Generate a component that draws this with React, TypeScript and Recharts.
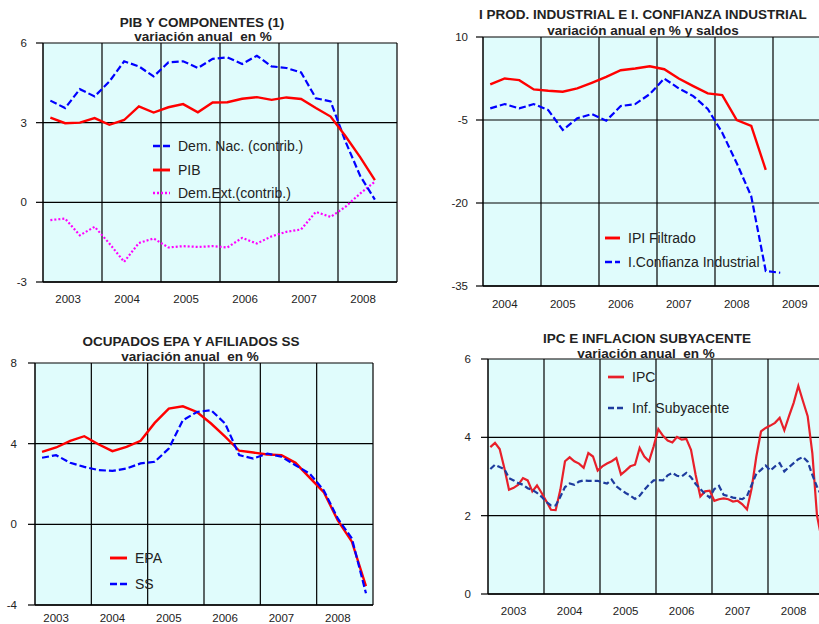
import React from "react";
import { CartesianGrid, Line, LineChart, ReferenceLine, XAxis, YAxis } from "recharts";

const FONT = '"Liberation Sans", Arial, sans-serif';
const PLOT_BG = "#E0FCFC";
const INK = "#222";

// --- PIB y componentes, trimestral 2003T1..2008T3
const pibYears = [2003, 2004, 2005, 2006, 2007, 2008];
const demNac = [3.83, 3.55, 4.26, 3.99, 4.55, 5.31, 5.12, 4.74, 5.27, 5.31, 5.06, 5.4, 5.46, 5.21, 5.52, 5.12, 5.06, 4.89, 3.92, 3.8, 2.3, 1.0, 0.1];
const pib = [3.19, 2.98, 3.0, 3.17, 2.92, 3.1, 3.61, 3.38, 3.58, 3.7, 3.39, 3.76, 3.77, 3.9, 3.96, 3.86, 3.95, 3.89, 3.55, 3.23, 2.5, 1.7, 0.84];
const demExt = [-0.67, -0.61, -1.24, -0.92, -1.55, -2.24, -1.53, -1.36, -1.7, -1.65, -1.68, -1.65, -1.7, -1.34, -1.55, -1.28, -1.11, -1.02, -0.36, -0.55, -0.17, 0.33, 0.78];

// --- IPI filtrado y confianza industrial, trimestral 2004T1..2009T1
const ipiYears = [2004, 2005, 2006, 2007, 2008, 2009];
const ipiFiltrado = [1.42, 2.5, 2.2, 0.52, 0.28, 0.1, 0.7, 1.72, 2.8, 4.0, 4.3, 4.72, 4.18, 2.5, 1.12, -0.2, -0.5, -5.0, -6.08, -14.0];
const confianza = [-2.9, -2.12, -2.9, -2.12, -3.2, -6.8, -4.7, -3.92, -5.12, -2.48, -2.12, -0.32, 2.5, 0.7, -0.68, -3.0, -7.3, -12.8, -18.8, -32.3, -32.6];

// --- Ocupados EPA y afiliados SS, trimestral 2003T1..2008T4
const empYears = [2003, 2004, 2005, 2006, 2007, 2008];
const epa = [3.59, 3.81, 4.14, 4.37, 3.97, 3.63, 3.84, 4.14, 5.03, 5.74, 5.85, 5.57, 5.0, 4.35, 3.65, 3.56, 3.46, 3.43, 3.05, 2.32, 1.6, 0.2, -0.86, -3.06];
const ss = [3.3, 3.43, 3.05, 2.85, 2.69, 2.65, 2.77, 3.02, 3.1, 3.76, 5.16, 5.57, 5.66, 5.0, 3.43, 3.26, 3.51, 3.35, 2.93, 2.52, 1.69, 0.29, -0.7, -3.42];

// --- IPC e inflación subyacente, mensual ene-2003..dic-2008
const ipcYears = [2003, 2004, 2005, 2006, 2007, 2008];
const ipc = [
  3.75, 3.86, 3.7, 3.22, 2.66, 2.71, 2.79, 2.96, 2.9, 2.62, 2.77, 2.58,
  2.37, 2.15, 2.14, 2.66, 3.39, 3.49, 3.39, 3.33, 3.22, 3.6, 3.51, 3.15,
  3.26, 3.33, 3.39, 3.47, 3.05, 3.15, 3.26, 3.3, 3.73, 3.51, 3.39, 3.77,
  4.21, 4.04, 3.92, 3.87, 4.01, 3.94, 3.96, 3.68, 3.04, 2.49, 2.62, 2.64,
  2.38, 2.42, 2.44, 2.42, 2.36, 2.38, 2.29, 2.16, 2.7, 3.51, 4.15, 4.24,
  4.3, 4.37, 4.5, 4.18, 4.54, 4.88, 5.31, 4.92, 4.54, 3.6, 2.0, 1.4,
];
const subyacente = [
  3.19, 3.3, 3.24, 3.19, 2.96, 2.9, 2.83, 2.79, 2.7, 2.66, 2.58, 2.48,
  2.35, 2.26, 2.26, 2.48, 2.73, 2.82, 2.79, 2.87, 2.9, 2.89, 2.89, 2.89,
  2.85, 2.82, 2.92, 2.75, 2.66, 2.58, 2.51, 2.43, 2.51, 2.66, 2.79, 2.9,
  2.91, 2.9, 3.03, 3.09, 3.02, 3.0, 3.09, 2.98, 2.81, 2.68, 2.56, 2.46,
  2.68, 2.76, 2.53, 2.5, 2.46, 2.44, 2.42, 2.5, 2.79, 3.07, 3.17, 3.28,
  3.15, 3.26, 3.34, 3.13, 3.24, 3.34, 3.44, 3.5, 3.38, 3.04, 2.74, 2.5,
];

type Serie = { key: string; name: string; values: number[]; color: string; width: number; dash?: string };

type PanelProps = {
  left: number;
  top: number;
  width: number;
  height: number;
  margin: { top: number; right: number; left: number; bottom: number };
  yWidth: number;
  xHeight: number;
  xTickMargin: number;
  yDomain: [number, number];
  yTicks: number[];
  yTickMargin: number;
  years: number[];
  perYear: number;
  labelOffset: number;
  series: Serie[];
};

function Panel(p: PanelProps) {
  const slots = p.years.length * p.perYear;
  const n = Math.max(...p.series.map((s) => s.values.length));
  const rows = Array.from({ length: n }, (_, i) => {
    const row: Record<string, number | null> = { x: i };
    p.series.forEach((s) => {
      row[s.key] = i < s.values.length ? s.values[i] : null;
    });
    return row;
  });
  const xTicks = p.years.map((_, k) => k * p.perYear + p.labelOffset);
  const bounds = p.years.map((_, k) => (k + 1) * p.perYear - 0.5);

  return (
    <div style={{ position: "absolute", left: p.left, top: p.top }}>
      <LineChart width={p.width} height={p.height} data={rows} margin={p.margin}>
        <CartesianGrid vertical={false} stroke="#000" strokeWidth={1.2} fill={PLOT_BG} fillOpacity={1} />
        <XAxis
          dataKey="x"
          type="number"
          domain={[-0.5, slots - 0.5]}
          ticks={xTicks}
          interval={0}
          height={p.xHeight}
          tickLine={false}
          tickSize={0}
          tickMargin={p.xTickMargin}
          axisLine={{ stroke: "#000", strokeWidth: 1.5 }}
          tick={{ fill: INK, fontSize: 11.5, fontFamily: FONT }}
          tickFormatter={(v: number) => String(p.years[Math.round((v - p.labelOffset) / p.perYear)] ?? "")}
          allowDataOverflow
        />
        <YAxis
          type="number"
          domain={p.yDomain}
          ticks={p.yTicks}
          interval={0}
          width={p.yWidth}
          tickSize={7}
          tickMargin={p.yTickMargin}
          axisLine={{ stroke: "#000", strokeWidth: 1.5 }}
          tickLine={{ stroke: "#000", strokeWidth: 1.2 }}
          tick={{ fill: INK, fontSize: 11.5, fontFamily: FONT }}
          allowDataOverflow
        />
        {bounds.map((b) => (
          <ReferenceLine key={b} x={b} stroke="#000" strokeWidth={1.2} />
        ))}
        {p.series.map((s) => (
          <Line
            key={s.key}
            dataKey={s.key}
            name={s.name}
            type="linear"
            stroke={s.color}
            strokeWidth={s.width}
            strokeDasharray={s.dash}
            dot={false}
            activeDot={false}
            isAnimationActive={false}
          />
        ))}
      </LineChart>
    </div>
  );
}

function Title({ cx, baseline, text, size = 13.5 }: { cx: number; baseline: number; text: string; size?: number }) {
  return (
    <div
      style={{
        position: "absolute",
        left: cx - 250,
        width: 500,
        top: baseline - 11.7,
        textAlign: "center",
        fontFamily: FONT,
        fontWeight: "bold",
        fontSize: size,
        lineHeight: "14px",
        color: INK,
        whiteSpace: "pre",
      }}
    >
      {text}
    </div>
  );
}

// leyenda dentro del área de gráfico, como en el Excel original
function LegendBox({ x, textX, rows }: { x: number; textX: number; rows: { y: number; s: Serie }[] }) {
  return (
    <>
      {rows.map(({ y, s }) => (
        <div
          key={s.key}
          style={{ position: "absolute", left: x, top: y - 9, height: 18, display: "flex", alignItems: "center" }}
        >
          <svg width={textX - x - 8} height={6} style={{ marginRight: 8 }}>
            <line x1={0} y1={3} x2={textX - x - 8} y2={3} stroke={s.color} strokeWidth={s.width + 0.5} strokeDasharray={s.dash} />
          </svg>
          <span style={{ fontFamily: FONT, fontSize: 14, color: INK, whiteSpace: "pre" }}>{s.name}</span>
        </div>
      ))}
    </>
  );
}

const sDemNac: Serie = { key: "demNac", name: "Dem. Nac. (contrib.)", values: demNac, color: "#0000FF", width: 2.2, dash: "7 3" };
const sPib: Serie = { key: "pib", name: "PIB", values: pib, color: "#FF0000", width: 2.4 };
const sDemExt: Serie = { key: "demExt", name: "Dem.Ext.(contrib.)", values: demExt, color: "#FF00FF", width: 2.2, dash: "2 2" };
const sIpi: Serie = { key: "ipi", name: "IPI Filtrado", values: ipiFiltrado, color: "#FF0000", width: 2.4 };
const sConf: Serie = { key: "conf", name: "I.Confianza Industrial", values: confianza, color: "#0000FF", width: 2.2, dash: "7 3" };
const sEpa: Serie = { key: "epa", name: "EPA", values: epa, color: "#FF0000", width: 2.4 };
const sSs: Serie = { key: "ss", name: "SS", values: ss, color: "#0000FF", width: 2.2, dash: "7 3" };
const sIpc: Serie = { key: "ipc", name: "IPC", values: ipc, color: "#E8202A", width: 2.2 };
const sSub: Serie = { key: "sub", name: "Inf. Subyacente", values: subyacente, color: "#1E3C9E", width: 2.2, dash: "6 3" };

export default function App() {
  return (
    <div
      style={{
        position: "absolute",
        left: 0,
        top: 0,
        width: 819,
        height: 624,
        overflow: "hidden",
        background: "#fff",
      }}
    >
      <Title cx={202} baseline={27.5} text="PIB Y COMPONENTES (1)" />
      <Title cx={203} baseline={42} text="variación anual  en %" />
      <Title cx={643} baseline={19.5} text="I PROD. INDUSTRIAL E I. CONFIANZA INDUSTRIAL" />
      <Title cx={643} baseline={36} text="variación anual en % y saldos" />
      <Title cx={191} baseline={346.5} text="OCUPADOS EPA Y AFILIADOS SS" />
      <Title cx={190} baseline={362} text="variación anual  en %" />
      <Title cx={647} baseline={344} text="IPC E INFLACION SUBYACENTE" />
      <Title cx={646} baseline={359} text="variación anual  en %" />

      <Panel
        left={0}
        top={0}
        width={410}
        height={310}
        margin={{ top: 43, right: 13, left: 0, bottom: 0 }}
        yWidth={43}
        xHeight={28}
        xTickMargin={13}
        yDomain={[-3, 6]}
        yTicks={[-3, 0, 3, 6]}
        yTickMargin={9}
        years={pibYears}
        perYear={4}
        labelOffset={1.2}
        series={[sDemExt, sDemNac, sPib]}
      />
      <Panel
        left={410}
        top={0}
        width={430}
        height={310}
        margin={{ top: 37, right: 9, left: 0, bottom: 0 }}
        yWidth={73}
        xHeight={24}
        xTickMargin={14}
        yDomain={[-35, 10]}
        yTicks={[-35, -20, -5, 10]}
        yTickMargin={8}
        years={ipiYears}
        perYear={4}
        labelOffset={1}
        series={[sConf, sIpi]}
      />
      <Panel
        left={0}
        top={320}
        width={380}
        height={304}
        margin={{ top: 43, right: 7, left: 0, bottom: 0 }}
        yWidth={35}
        xHeight={19}
        xTickMargin={9}
        yDomain={[-4, 8]}
        yTicks={[-4, 0, 4, 8]}
        yTickMargin={11}
        years={empYears}
        perYear={4}
        labelOffset={1}
        series={[sEpa, sSs]}
      />
      <Panel
        left={410}
        top={320}
        width={420}
        height={304}
        margin={{ top: 39, right: 6, left: 0, bottom: 0 }}
        yWidth={78}
        xHeight={30}
        xTickMargin={13}
        yDomain={[0, 6]}
        yTicks={[0, 2, 4, 6]}
        yTickMargin={10}
        years={ipcYears}
        perYear={12}
        labelOffset={5}
        series={[sIpc, sSub]}
      />

      <LegendBox
        x={153}
        textX={178}
        rows={[
          { y: 145.5, s: sDemNac },
          { y: 169.5, s: sPib },
          { y: 193, s: sDemExt },
        ]}
      />
      <LegendBox
        x={605}
        textX={628}
        rows={[
          { y: 237.5, s: sIpi },
          { y: 262, s: sConf },
        ]}
      />
      <LegendBox
        x={110}
        textX={135}
        rows={[
          { y: 557.5, s: sEpa },
          { y: 583.5, s: sSs },
        ]}
      />
      <LegendBox
        x={608}
        textX={632}
        rows={[
          { y: 377, s: sIpc },
          { y: 407.5, s: sSub },
        ]}
      />
    </div>
  );
}
